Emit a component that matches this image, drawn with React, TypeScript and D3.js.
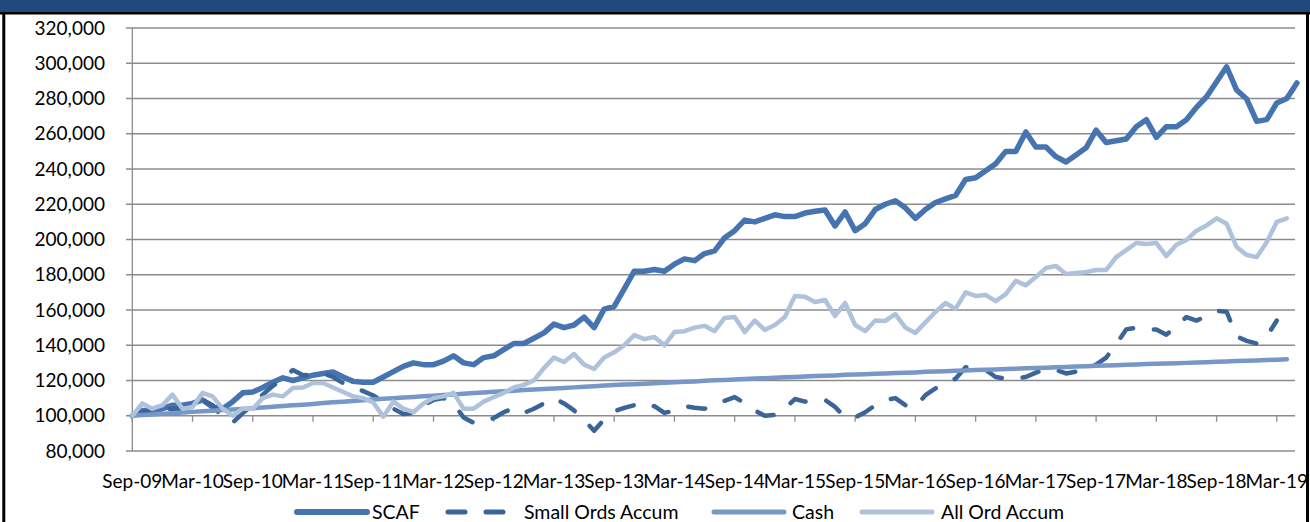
import React from 'react';
import * as d3 from 'd3';

// monthly values, Sep-09 onwards (thousands)
const scaf = [
  100, 103, 103, 104, 106, 106, 107, 109, 105, 104,
  108, 113, 113.5, 116, 119, 121.5, 120, 121.5, 123, 124, 124.8, 122, 119.5, 119, 119,
  122, 125, 128, 130, 129, 129, 131, 134, 130, 129, 133, 134,
  137.5, 141, 141, 144, 147, 152, 150, 151.5, 156, 150, 160.5, 162,
  172, 182, 182, 183, 182, 186, 189, 188, 192, 193.5, 201, 205,
  211, 210, 212, 214, 213, 213, 215, 216, 216.7, 207.7, 215.6, 205,
  209, 217, 220, 222, 218, 212, 217, 221, 223, 225, 234, 235,
  239, 243, 250, 250, 261, 252.5, 252.5, 247, 244, 248, 252, 262,
  255, 256, 257, 264, 268, 258, 264, 264, 268, 275, 281, 289.5,
  298, 284.8, 279.7, 267, 268, 277.5, 280, 288.8,
];

const smallOrds = [
  100, 102, 103, 104, 104, 104, 106, 109, 106, 99, 96, 101.5,
  106, 112, 117, 121, 126, 123, 123.5, 124, 122, 118.5, 116, 114,
  111.5, 108, 104, 101, 101.5, 106, 109, 110, 107, 99, 96, 96.5,
  98.7, 102, 104.4, 101.6, 104, 107, 110, 107, 103, 97.6, 91.5, 98,
  102.5, 104.5, 106, 104, 105.5, 101.6, 103, 105.5, 104.5, 104, 106, 108.5,
  110.6, 107, 103, 100, 100.5, 104, 109.5, 108, 108.5, 109, 105, 99,
  99, 102, 106, 109, 110, 106, 105, 111.7, 115.5, 118.6, 121, 127.5,
  127.5, 126, 122, 121, 121, 122, 124.5, 126.5, 126, 124, 125, 126.5,
  129, 133, 140.5, 149, 150, 149, 149, 146, 151, 156, 154, 156.5,
  159.5, 159, 145, 142.5, 141, 145, 154,
];

const cash = [
  100, 100.4, 100.7, 101.1, 101.4, 101.8, 102.2, 102.5, 102.9, 103.2, 103.6, 103.9, 104.3,
  104.7, 105.1, 105.5, 105.9, 106.3, 106.7, 107.2, 107.6, 108.0, 108.4, 108.8, 109.2,
  109.6, 109.9, 110.3, 110.7, 111.0, 111.4, 111.8, 112.1, 112.5, 112.9, 113.2, 113.6,
  113.9, 114.2, 114.6, 114.9, 115.2, 115.5, 115.8, 116.1, 116.5, 116.8, 117.1, 117.4,
  117.7, 117.9, 118.2, 118.5, 118.7, 119.0, 119.3, 119.5, 119.8, 120.1, 120.3, 120.6,
  120.8, 121.1, 121.3, 121.5, 121.8, 122.0, 122.2, 122.5, 122.7, 122.9, 123.2, 123.4,
  123.6, 123.8, 124.0, 124.2, 124.4, 124.6, 124.9, 125.1, 125.3, 125.5, 125.7, 125.9,
  126.1, 126.3, 126.5, 126.7, 126.9, 127.1, 127.3, 127.5, 127.7, 127.9, 128.1, 128.3,
  128.5, 128.7, 128.9, 129.1, 129.3, 129.5, 129.6, 129.8, 130.0, 130.2, 130.4, 130.6,
  130.8, 131.0, 131.2, 131.4, 131.6, 131.8, 132.0,
];

const allOrd = [
  100, 107, 104, 106, 112, 104, 105, 113, 111, 104, 100, 104,
  104, 110, 112, 111, 115.7, 116, 118.6, 118.6, 116, 113.5, 111, 110,
  107.5, 99.5, 108, 104, 102, 107, 110, 111, 113, 104, 104, 108,
  110.6, 113, 116, 117.5, 120, 127, 133, 130.5, 135, 129, 126.5, 133,
  136, 140, 145.8, 143.5, 144.7, 140, 147.5, 148, 150, 151, 148, 155.5,
  156, 147.5, 154, 148.7, 151.5, 156, 168, 167.5, 164.5, 165.7, 156.6, 164,
  151.5, 148, 154, 153.8, 157.7, 150, 147, 153, 158.9, 164, 160.6, 170,
  168, 168.5, 165, 169, 176.5, 174, 178.7, 183.8, 185, 180.4, 181, 181.6,
  182.7, 182.7, 190, 194, 198, 197.5, 198, 190.6, 197, 199.7, 205, 208,
  212, 209, 195.7, 191.2, 190, 198.6, 210, 212,
];

const tickLabels = [
  'Sep-09', 'Mar-10', 'Sep-10', 'Mar-11', 'Sep-11', 'Mar-12', 'Sep-12', 'Mar-13',
  'Sep-13', 'Mar-14', 'Sep-14', 'Mar-15', 'Sep-15', 'Mar-16', 'Sep-16', 'Mar-17',
  'Sep-17', 'Mar-18', 'Sep-18', 'Mar-19',
];
const yTicks = [80000, 100000, 120000, 140000, 160000, 180000, 200000, 220000, 240000, 260000, 280000, 300000, 320000];

const W = 1310;
const H = 522;
const FONT = 'Lato, "Open Sans", sans-serif';

const x = d3.scaleLinear().domain([0, 116]).range([132.3, 1296.9]);
const y = d3.scaleLinear().domain([80000, 320000]).range([451, 28]);

const line = d3.line<number>()
  .x((_, i) => x(i))
  .y(d => y(d * 1000));

const series = [
  { name: 'SCAF', data: scaf, color: '#4674B0', width: 5.5, dash: undefined, lx: 297, tx: 372 },
  { name: 'Small Ords Accum', data: smallOrds, color: '#3B6598', width: 4.5, dash: '17,21', lx: 448, tx: 524 },
  { name: 'Cash', data: cash, color: '#7797C7', width: 4.5, dash: undefined, lx: 714, tx: 792 },
  { name: 'All Ord Accum', data: allOrd, color: '#AFC2DC', width: 4.5, dash: undefined, lx: 862, tx: 941 },
];

export default function App() {
  const fmt = d3.format(',');
  const axisY = y(100000);
  return (
    <svg width={W} height={H} style={{ position: 'absolute', left: 0, top: 0, background: '#fff' }}>
      {/* header strip and frame */}
      <rect x={0} y={0} width={W} height={12} fill="#1F497D" />
      <line x1={0} x2={W} y1={13.2} y2={13.2} stroke="#000" strokeWidth={2.5} />
      <line x1={3.8} x2={3.8} y1={12} y2={H} stroke="#000" strokeWidth={3} />
      <line x1={1307.5} x2={1307.5} y1={12} y2={H} stroke="#000" strokeWidth={3} />

      {/* gridlines + y ticks */}
      {yTicks.map(t => (
        <g key={t}>
          <line x1={126} x2={1295} y1={y(t)} y2={y(t)} stroke="#8C8C8C" strokeWidth={1.3} />
          <text x={105} y={y(t)} dy="0.35em" textAnchor="end" fontFamily={FONT} fontSize={19} fill="#000">
            {fmt(t)}
          </text>
        </g>
      ))}
      <line x1={132.3} x2={132.3} y1={y(320000)} y2={y(80000)} stroke="#8C8C8C" strokeWidth={1.3} />

      {/* category axis crossing at 100,000 */}
      {tickLabels.map((lab, k) => (
        <g key={lab}>
          <line x1={x(k * 6)} x2={x(k * 6)} y1={axisY} y2={axisY + 6} stroke="#8C8C8C" strokeWidth={1.3} />
          <text x={x(k * 6)} y={488} textAnchor="middle" fontFamily={FONT} fontSize={19} fill="#000">
            {lab}
          </text>
        </g>
      ))}

      {/* series */}
      {series.map(s => (
        <path
          key={s.name}
          d={line(s.data) || ''}
          fill="none"
          stroke={s.color}
          strokeWidth={s.width}
          strokeDasharray={s.dash}
          strokeLinejoin="round"
          strokeLinecap="round"
        />
      ))}

      {/* legend */}
      {series.map(s => (
        <g key={'lg' + s.name}>
          <line
            x1={s.lx}
            x2={s.lx + 70}
            y1={512}
            y2={512}
            stroke={s.color}
            strokeWidth={s.width + 0.5}
            strokeDasharray={s.dash}
            strokeLinecap="round"
          />
          <text x={s.tx} y={518.5} fontFamily={FONT} fontSize={19.5} fill="#000">
            {s.name}
          </text>
        </g>
      ))}
    </svg>
  );
}
